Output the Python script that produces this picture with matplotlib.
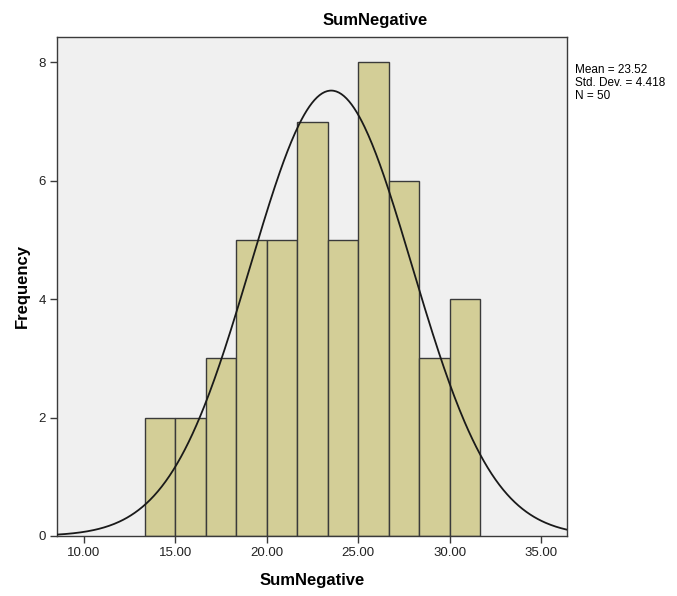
import numpy as np
import matplotlib
matplotlib.use("Agg")
import matplotlib.pyplot as plt

plt.rcParams['font.family'] = ['Liberation Sans', 'DejaVu Sans']

bin_start = 40 / 3
bin_width = 5 / 3
counts = [2, 2, 3, 5, 5, 7, 5, 8, 6, 3, 4]
mean, sd, n = 23.52, 4.418, 50
xticks = [10, 15, 20, 25, 30, 35]
yticks = [0, 2, 4, 6, 8]

fig = plt.figure(figsize=(6.77, 5.96), dpi=100)
ax = fig.add_axes([57 / 677, 60 / 596, 510 / 677, 499 / 596])
ax.set_facecolor('#F0F0F0')

lefts = [bin_start + i * bin_width for i in range(len(counts))]
ax.bar(lefts, counts, width=bin_width, align='edge', color='#D3CE97',
       edgecolor='#3A3A3A', linewidth=1.0, zorder=2)

xs = np.linspace(8.5, 36.5, 400)
ys = n * bin_width * np.exp(-0.5 * ((xs - mean) / sd) ** 2) / (sd * np.sqrt(2 * np.pi))
ax.plot(xs, ys, color='#1A1A1A', linewidth=1.3, zorder=3)

ax.set_xlim(8.53, 36.41)
ax.set_ylim(0, 8.43)
ax.set_xticks(xticks)
ax.set_xticklabels([f"{t:.2f}" for t in xticks], fontsize=9.5, color='#222222')
ax.set_yticks(yticks)
ax.set_yticklabels([str(t) for t in yticks], fontsize=9.5, color='#222222')
ax.tick_params(direction='out', length=5, width=1, color='#3A3A3A', pad=3)
for s in ax.spines.values():
    s.set_color('#3A3A3A')
    s.set_linewidth(1.0)

ax.set_xlabel('SumNegative', fontsize=12, fontweight='bold', labelpad=10)
ax.set_ylabel('Frequency', fontsize=12, fontweight='bold', labelpad=6)
fig.text(375 / 677, 1 - 20 / 596, 'SumNegative', fontsize=12, fontweight='bold',
         ha='center', va='center')
fig.text(575 / 677, 1 - 64 / 596,
         f"Mean = {mean:.2f}\nStd. Dev. = {sd:.3f}\nN = {n}",
         fontsize=8.5, ha='left', va='top', linespacing=1.1)

fig.savefig('out.png', dpi=100)
